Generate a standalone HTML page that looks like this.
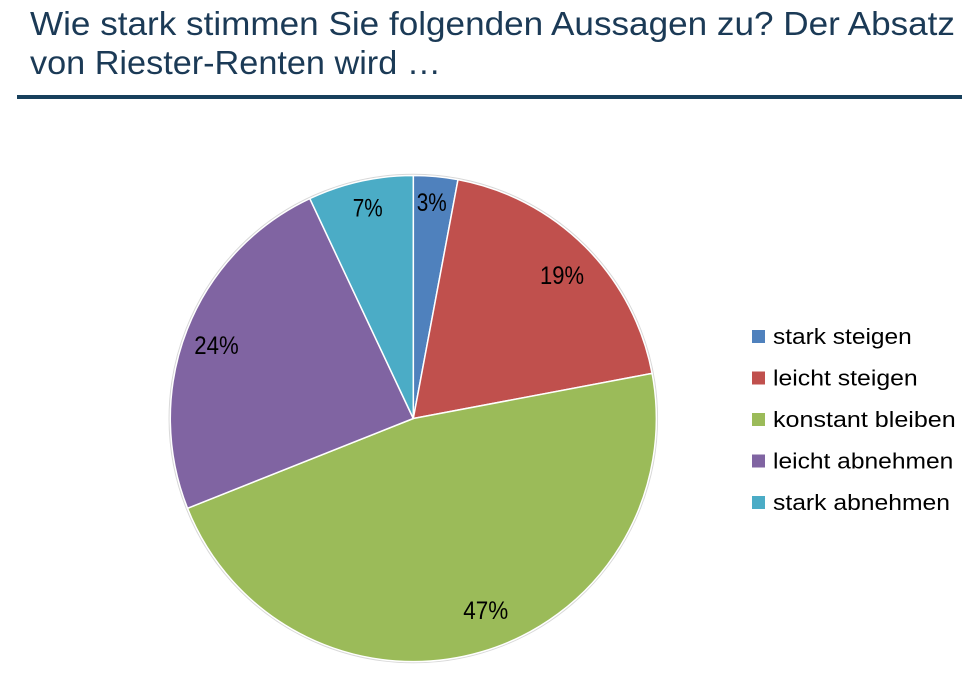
<!DOCTYPE html>
<html>
<head>
<meta charset="utf-8">
<style>
html,body{margin:0;padding:0;background:#fff;}
svg{display:block;}
</style>
</head>
<body>
<svg width="962" height="695" viewBox="0 0 962 695" xmlns="http://www.w3.org/2000/svg">
  <rect width="962" height="695" fill="#fff"/>
  <!-- Title -->
  <g font-family="Liberation Sans, sans-serif" font-size="33" fill="#1B3A56">
    <text x="30" y="35" textLength="925" lengthAdjust="spacingAndGlyphs">Wie stark stimmen Sie folgenden Aussagen zu? Der Absatz</text>
    <text x="30" y="74" textLength="411" lengthAdjust="spacingAndGlyphs">von Riester-Renten wird …</text>
  </g>
  <rect x="17" y="95" width="945" height="4" fill="#17405C"/>

  <!-- Pie -->
  <circle cx="413.3" cy="418.5" r="244" fill="none" stroke="#d8d8d8" stroke-width="1.5"/>
  <g stroke="#fff" stroke-width="1.5" stroke-linejoin="round">
    <path d="M413.3,418.5 L413.3,175.5 A243,243 0 0 1 458.0,179.6 Z" fill="#4F81BD"/>
    <path d="M413.3,418.5 L458.0,179.6 A243,243 0 0 1 652.1,373.4 Z" fill="#C0504D"/>
    <path d="M413.3,418.5 L652.1,373.4 A243,243 0 0 1 187.5,508.3 Z" fill="#9BBB59"/>
    <path d="M413.3,418.5 L187.5,508.3 A243,243 0 0 1 309.8,198.6 Z" fill="#8064A2"/>
    <path d="M413.3,418.5 L309.8,198.6 A243,243 0 0 1 413.3,175.5 Z" fill="#4BACC6"/>
  </g>

  <!-- Pie labels -->
  <g font-family="Liberation Sans, sans-serif" font-size="25" fill="#000">
    <text x="416.7" y="211" textLength="30" lengthAdjust="spacingAndGlyphs">3%</text>
    <text x="540" y="284" textLength="44" lengthAdjust="spacingAndGlyphs">19%</text>
    <text x="352.7" y="216.7" textLength="30" lengthAdjust="spacingAndGlyphs">7%</text>
    <text x="194.3" y="354" textLength="44.4" lengthAdjust="spacingAndGlyphs">24%</text>
    <text x="463.3" y="619" textLength="45" lengthAdjust="spacingAndGlyphs">47%</text>
  </g>

  <!-- Legend -->
  <rect x="752" y="330" width="13" height="13" fill="#4F81BD"/>
  <rect x="752" y="371.5" width="13" height="13" fill="#C0504D"/>
  <rect x="752" y="413" width="13" height="13" fill="#9BBB59"/>
  <rect x="752" y="454.5" width="13" height="13" fill="#8064A2"/>
  <rect x="752" y="496" width="13" height="13" fill="#4BACC6"/>
  <g font-family="Liberation Sans, sans-serif" font-size="22" fill="#000">
    <text x="773" y="344" textLength="138.7" lengthAdjust="spacingAndGlyphs">stark steigen</text>
    <text x="773" y="385.5" textLength="144.7" lengthAdjust="spacingAndGlyphs">leicht steigen</text>
    <text x="773" y="427" textLength="182.7" lengthAdjust="spacingAndGlyphs">konstant bleiben</text>
    <text x="773" y="468.5" textLength="180.3" lengthAdjust="spacingAndGlyphs">leicht abnehmen</text>
    <text x="773" y="510" textLength="177" lengthAdjust="spacingAndGlyphs">stark abnehmen</text>
  </g>
</svg>
</body>
</html>
